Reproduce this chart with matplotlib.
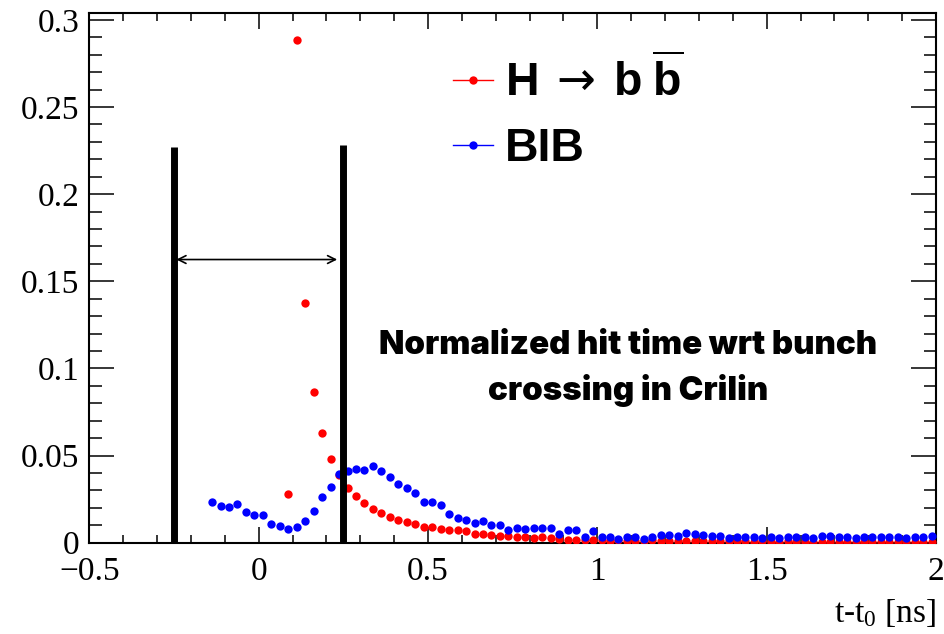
import numpy as np
import matplotlib
matplotlib.use("Agg")
import matplotlib.pyplot as plt
from matplotlib.lines import Line2D
from matplotlib.ticker import MultipleLocator

plt.rcParams['mathtext.fontset'] = 'custom'
plt.rcParams['mathtext.rm'] = 'Liberation Serif'
plt.rcParams['mathtext.it'] = 'Liberation Serif:italic'
plt.rcParams['mathtext.bf'] = 'Liberation Sans:bold'
plt.rcParams['mathtext.sf'] = 'DejaVu Sans:normal'

# ---- data ----
bin_width = 0.025
bib_first_center = -0.1375
bib_values = [
    0.0233, 0.0208, 0.0203, 0.0222, 0.0174, 0.0161, 0.0161, 0.0107, 0.0094, 0.0080,
    0.0090, 0.0126, 0.0180, 0.0260, 0.0320, 0.0396, 0.0410, 0.0423, 0.0415, 0.0438,
    0.0410, 0.0377, 0.0338, 0.0314, 0.0285, 0.0233, 0.0233, 0.0218, 0.0166, 0.0142,
    0.0132, 0.0113, 0.0122, 0.0103, 0.0103, 0.0071, 0.0084, 0.0079, 0.0084, 0.0084,
    0.0084, 0.0052, 0.0071, 0.0071, 0.0033, 0.0065, 0.0033, 0.0033, 0.0023, 0.0033,
    0.0033, 0.0023, 0.0035, 0.0044, 0.0044, 0.0040, 0.0054, 0.0048, 0.0044, 0.0038,
    0.0038, 0.0025, 0.0030, 0.0030, 0.0030, 0.0028, 0.0030, 0.0028, 0.0030, 0.0030,
    0.0030, 0.0025, 0.0040, 0.0038, 0.0030, 0.0030, 0.0025, 0.0033, 0.0033, 0.0030,
    0.0033, 0.0030, 0.0025, 0.0030, 0.0033, 0.0040,
]
hbb_first_center = 0.0875
hbb_values = [
    0.0280, 0.2886, 0.1376, 0.0866, 0.0630, 0.0480, 0.0390, 0.0316, 0.0266, 0.0228,
    0.0193, 0.0170, 0.0147, 0.0132, 0.0116, 0.0109, 0.0090, 0.0090, 0.0079, 0.0071,
    0.0071, 0.0065, 0.0052, 0.0052, 0.0046, 0.0036, 0.0036, 0.0033, 0.0033, 0.0027,
    0.0030, 0.0027, 0.0023, 0.0017, 0.0017, 0.0017, 0.0015,
    0.0013, 0.0012, 0.0013, 0.0011, 0.0012, 0.0010, 0.0014, 0.0012, 0.0010, 0.0011,
    0.0009, 0.0008, 0.0009, 0.0008, 0.0007, 0.0008, 0.0007, 0.0007, 0.0006, 0.0007,
    0.0006, 0.0006, 0.0007, 0.0006, 0.0005, 0.0006, 0.0005, 0.0005, 0.0004, 0.0005,
    0.0004, 0.0005, 0.0004, 0.0004, 0.0005, 0.0004, 0.0004, 0.0003, 0.0004, 0.0004,
]
window_edges = [-0.25, 0.25]
window_tops = [0.2273, 0.2285]
arrow_span = [-0.243, 0.232]
arrow_y = 0.1625
label_hbb = r'$\mathbf{H}\ \mathsf{\rightarrow}\ \mathbf{b}\ \overline{\mathbf{b}}$'
label_bib = 'BIB'
note_text = "Normalized hit time wrt bunch\ncrossing in Crilin"
xlabel = r't-t$_{0}$ [ns]'

bib_x = bib_first_center + bin_width * np.arange(len(bib_values))
hbb_x = hbb_first_center + bin_width * np.arange(len(hbb_values))

# ---- figure ----
fig = plt.figure(figsize=(9.45, 6.34), dpi=100)
ax = fig.add_axes([89.3 / 945, (634 - 542.7) / 634, (936 - 89.3) / 945, (542.7 - 13.3) / 634])

ax.plot(hbb_x, hbb_values, 'o', color='#ff0000', ms=6, mec='none', zorder=3)
ax.plot(bib_x, bib_values, 'o', color='#0000ff', ms=6, mec='none', zorder=4)

for xe, yt in zip(window_edges, window_tops):
    ax.plot([xe, xe], [0, yt], color='black', lw=5, solid_capstyle='butt', zorder=5)
ax.annotate('', xy=(arrow_span[1], arrow_y), xytext=(arrow_span[0], arrow_y),
            arrowprops=dict(arrowstyle='<->', color='black', lw=1.2, mutation_scale=14,
                            shrinkA=0, shrinkB=0))

ax.set_xlim(-0.5, 2.0)
ax.set_ylim(0, 0.3038)
ax.xaxis.set_major_locator(MultipleLocator(0.5))
ax.xaxis.set_minor_locator(MultipleLocator(0.1))
ax.yaxis.set_major_locator(MultipleLocator(0.05))
ax.yaxis.set_minor_locator(MultipleLocator(0.01))

def fmt(v, pos):
    s = ('%g' % v)
    return s.replace('-', '\u2212')
ax.xaxis.set_major_formatter(matplotlib.ticker.FuncFormatter(fmt))
ax.yaxis.set_major_formatter(matplotlib.ticker.FuncFormatter(fmt))

for sp in ax.spines.values():
    sp.set_linewidth(1.5)
ax.tick_params(which='both', direction='in', top=True, right=True, width=1.1,
               labelsize=24)
ax.tick_params(axis='x', which='major', length=11.5, pad=10)
ax.tick_params(axis='x', which='minor', length=5.8)
ax.tick_params(axis='y', which='major', length=18, pad=7)
ax.tick_params(axis='y', which='minor', length=9)
for lab in ax.get_xticklabels() + ax.get_yticklabels():
    lab.set_fontfamily('Liberation Serif')

ax.set_xlabel(xlabel, loc='right', fontsize=24, fontfamily='Liberation Serif', labelpad=7)

handles = [Line2D([0], [0], color='#ff0000', marker='o', ms=6, mec='none', lw=1),
           Line2D([0], [0], color='#0000ff', marker='o', ms=6, mec='none', lw=1)]
leg = ax.legend(handles, [label_hbb, label_bib], loc='upper left',
                bbox_to_anchor=((453 - 89.3) / 846.7, 0.919), frameon=False,
                prop={'family': 'Liberation Sans', 'weight': 'bold', 'size': 33.5},
                handlelength=0.86, handletextpad=0.26, labelspacing=0.45, borderpad=0,
                borderaxespad=0)

ax.text(0.636, 0.329, note_text, transform=ax.transAxes, ha='center', va='center',
        fontsize=23.8, fontfamily='Inter', fontweight='black', linespacing=1.48)

fig.savefig('out.png', dpi=100)
